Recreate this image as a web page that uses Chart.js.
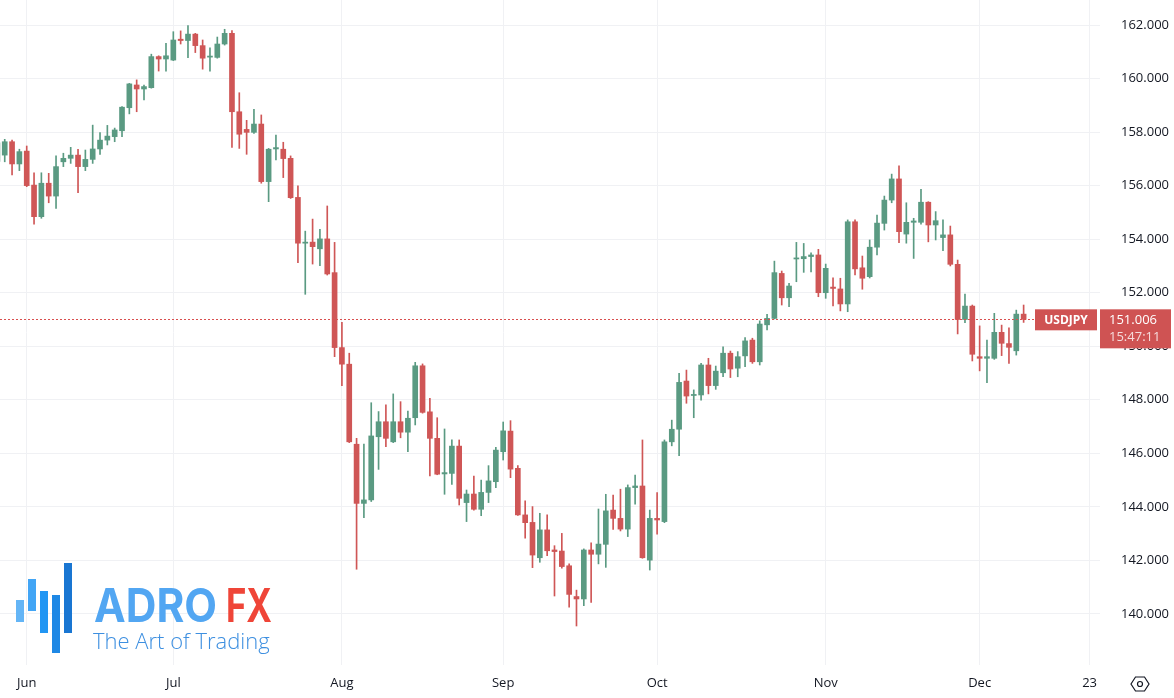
<!DOCTYPE html>
<html>
<head>
<meta charset="utf-8">
<script src="https://cdn.jsdelivr.net/npm/chart.js@4.4.1/dist/chart.umd.min.js"></script>
<style>
  html, body { margin: 0; padding: 0; background: #ffffff; }
  #wrap { width: 1174px; height: 698px; }
</style>
</head>
<body>
<div id="wrap"><canvas id="myChart" width="1174" height="698"></canvas></div>
<script>
// USDJPY daily candles, 28 May 2024 -> 10 Dec 2024 (one entry per trading day)
const firstDay = '2024-05-28';
const lastAxisDay = '2024-12-24';

const open = [
  156.90, 157.14, 157.64, 156.81, 157.29, 156.02, 154.84, 156.09, 155.61, 156.89,
  157.02, 157.14, 156.71, 156.98, 157.37, 157.70, 157.83, 158.05, 158.91, 159.76,
  159.61, 159.66, 160.82, 160.73, 160.69, 161.47, 161.42, 161.66, 161.23, 160.80,
  160.79, 161.29, 161.69, 158.76, 158.10, 157.99, 158.30, 156.15, 157.37, 157.36,
  157.02, 155.56, 153.85, 153.89, 153.64, 154.01, 152.75, 149.95, 149.33, 146.34,
  144.13, 144.26, 146.62, 147.18, 146.43, 147.18, 146.79, 147.33, 149.27, 147.55,
  146.56, 145.23, 145.25, 146.27, 144.16, 144.48, 143.91, 144.54, 144.94, 146.06,
  146.83, 145.44, 143.70, 143.42, 142.10, 143.14, 142.39, 142.35, 141.80, 140.65,
  140.56, 142.39, 142.23, 142.60, 143.88, 143.57, 143.17, 144.72, 144.78, 142.01,
  143.57, 143.45, 146.43, 146.90, 148.70, 148.16, 148.18, 149.30, 148.53, 149.01,
  149.74, 149.18, 149.64, 150.23, 149.42, 150.80, 151.04, 152.72, 151.81, 153.26,
  153.27, 153.35, 153.41, 152.00, 152.21, 152.14, 151.58, 154.65, 152.93, 152.60,
  153.70, 154.59, 155.46, 156.25, 154.19, 154.63, 154.63, 155.38, 154.53, 154.06,
  154.16, 153.06, 151.00, 151.50, 149.61, 149.55, 149.55, 150.52, 150.10, 149.83,
  151.20
];
const high = [
  157.70, 157.73, 157.70, 157.36, 157.48, 156.48, 156.48, 156.46, 157.11, 157.21,
  157.43, 157.36, 157.33, 158.26, 157.98, 158.25, 158.15, 158.95, 159.82, 159.95,
  159.76, 160.91, 160.85, 161.32, 161.75, 161.78, 161.98, 161.69, 161.44, 161.15,
  161.55, 161.84, 161.79, 159.47, 158.44, 158.85, 158.64, 157.39, 157.89, 157.62,
  157.11, 155.99, 154.30, 154.75, 154.37, 155.24, 153.88, 150.89, 149.74, 146.56,
  146.35, 147.89, 147.56, 147.81, 148.22, 147.93, 147.58, 149.40, 149.34, 148.05,
  147.33, 146.91, 146.50, 146.50, 144.63, 145.15, 145.00, 145.54, 146.22, 147.17,
  147.22, 145.54, 144.23, 144.01, 143.76, 143.70, 142.55, 143.01, 141.87, 140.89,
  142.43, 142.66, 143.92, 144.47, 144.44, 144.66, 144.82, 145.19, 146.50, 143.88,
  144.53, 146.50, 147.24, 148.99, 149.11, 148.37, 149.36, 149.55, 149.26, 149.98,
  149.82, 149.80, 150.32, 150.30, 150.95, 151.19, 153.18, 152.81, 152.35, 153.88,
  153.84, 153.49, 153.62, 153.07, 152.56, 152.54, 154.72, 154.72, 153.37, 153.97,
  154.90, 155.61, 156.43, 156.74, 155.36, 154.78, 155.86, 155.40, 155.03, 154.72,
  154.49, 153.22, 151.95, 151.54, 150.76, 150.23, 151.23, 150.79, 150.69, 151.35,
  151.54
];
const low = [
  156.80, 156.89, 156.40, 156.56, 155.96, 154.56, 154.78, 155.36, 155.15, 156.71,
  156.83, 155.74, 156.56, 156.83, 157.17, 157.52, 157.64, 157.83, 158.68, 158.76,
  159.20, 159.64, 160.28, 160.28, 160.67, 161.29, 160.78, 160.97, 160.35, 160.28,
  160.76, 161.25, 157.43, 157.39, 157.17, 157.95, 156.09, 155.40, 156.96, 156.30,
  155.52, 153.12, 151.94, 153.07, 153.01, 152.66, 149.61, 148.53, 146.40, 141.67,
  143.60, 144.20, 145.40, 146.25, 146.40, 146.58, 146.06, 147.06, 147.50, 145.16,
  145.20, 144.47, 144.84, 144.07, 143.45, 143.88, 143.67, 144.16, 144.72, 145.75,
  145.09, 143.68, 142.83, 141.73, 141.93, 142.18, 140.67, 141.71, 140.25, 139.55,
  140.31, 140.43, 141.87, 141.74, 143.16, 143.10, 142.89, 144.10, 142.08, 141.64,
  142.98, 143.41, 146.28, 145.91, 147.87, 147.33, 147.99, 148.22, 148.39, 148.86,
  148.83, 148.86, 149.24, 149.36, 149.30, 150.61, 151.02, 151.54, 151.48, 152.41,
  152.76, 152.78, 151.85, 151.79, 151.51, 151.32, 151.29, 152.66, 152.13, 152.55,
  153.41, 154.34, 155.36, 153.87, 153.85, 153.28, 154.56, 153.90, 153.97, 153.57,
  153.00, 150.46, 150.88, 149.45, 149.08, 148.64, 149.51, 149.65, 149.36, 149.67,
  150.89
];
const close = [
  157.60, 157.64, 156.81, 157.27, 156.00, 154.84, 156.09, 155.61, 156.71, 157.02,
  157.14, 156.71, 156.98, 157.37, 157.70, 157.85, 158.08, 158.93, 159.80, 159.61,
  159.70, 160.82, 160.73, 160.85, 161.44, 161.42, 161.66, 161.23, 160.76, 160.84,
  161.29, 161.69, 158.76, 157.92, 157.99, 158.30, 156.15, 157.36, 157.42, 157.01,
  155.55, 153.85, 153.89, 153.72, 154.01, 152.70, 149.95, 149.33, 146.43, 144.13,
  144.26, 146.65, 147.18, 146.56, 147.18, 146.79, 147.31, 149.27, 147.53, 146.56,
  145.22, 145.28, 146.27, 144.32, 144.48, 143.91, 144.54, 144.97, 146.12, 146.84,
  145.41, 143.70, 143.41, 142.20, 143.14, 142.36, 142.33, 141.77, 140.73, 140.56,
  142.39, 142.23, 142.61, 143.85, 143.57, 143.17, 144.72, 144.78, 142.10, 143.57,
  143.51, 146.43, 146.90, 148.65, 148.14, 148.20, 149.30, 148.53, 149.07, 149.74,
  149.15, 149.61, 150.20, 149.42, 150.83, 151.04, 152.75, 151.81, 152.25, 153.30,
  153.35, 153.41, 152.00, 152.91, 152.16, 151.58, 154.65, 152.89, 152.54, 153.70,
  154.60, 155.46, 156.25, 154.28, 154.63, 154.68, 155.38, 154.53, 154.69, 154.16,
  153.06, 151.00, 151.50, 149.70, 149.55, 149.61, 150.52, 150.11, 149.96, 151.20,
  151.006
];

const tickDates = ['2024-06-03', '2024-07-01', '2024-08-01', '2024-09-02', '2024-10-01', '2024-11-01', '2024-12-02', '2024-12-23'];
const tickLabels = ['Jun', 'Jul', 'Aug', 'Sep', 'Oct', 'Nov', 'Dec', '23'];
const priceTicks = [140, 142, 144, 146, 148, 150, 152, 154, 156, 158, 160, 162];

const symbol = 'USDJPY';
const lastPrice = close[close.length - 1];
const countdown = '15:47:11';

const upColor = '#5a9a82';
const downColor = '#cf5656';
const tagColor = '#cf5353';

// trading calendar (weekdays) used for the time axis
const days = [];
for (let d = new Date(firstDay + 'T00:00:00Z'); d <= new Date(lastAxisDay + 'T00:00:00Z'); d.setUTCDate(d.getUTCDate() + 1)) {
  const wd = d.getUTCDay();
  if (wd !== 0 && wd !== 6) days.push(d.toISOString().slice(0, 10));
}
const tickIdx = tickDates.map(t => days.indexOf(t));

const bodies = open.map((o, i) => ({ x: i, y: [o, close[i]] }));
const wicks = open.map((o, i) => ({ x: i, y: [low[i], high[i]] }));
const colors = open.map((o, i) => close[i] >= o ? upColor : downColor);

const overlay = {
  id: 'overlay',
  afterDraw(chart) {
    const c = chart.ctx;
    const y = chart.scales.y.getPixelForValue(lastPrice);
    const area = chart.chartArea;
    c.save();
    // last price dotted line
    c.strokeStyle = '#d94f4f';
    c.lineWidth = 1;
    c.setLineDash([2, 2]);
    c.beginPath();
    c.moveTo(area.left, Math.round(y) + 0.5);
    c.lineTo(1035, Math.round(y) + 0.5);
    c.stroke();
    c.setLineDash([]);
    // symbol tag
    c.fillStyle = tagColor;
    c.fillRect(1035, y - 10, 62, 21);
    c.fillStyle = '#ffffff';
    c.font = 'bold 12px "Open Sans", sans-serif';
    c.textAlign = 'center';
    c.textBaseline = 'middle';
    c.fillText(symbol, 1066, y + 1);
    // price box
    c.fillStyle = tagColor;
    c.fillRect(1100, y - 10, 71, 39);
    c.fillStyle = '#ffffff';
    c.font = '13px "Open Sans", sans-serif';
    c.textAlign = 'left';
    c.fillText(lastPrice.toFixed(3), 1109, y + 1);
    c.fillStyle = 'rgba(255,255,255,0.8)';
    c.fillText(countdown, 1109, y + 18);
    // settings icon
    c.strokeStyle = '#131722';
    c.lineWidth = 1.2;
    c.beginPath();
    const cx = 1140, cy = 684;
    c.moveTo(cx - 9, cy); c.lineTo(cx - 4.5, cy - 7); c.lineTo(cx + 4.5, cy - 7);
    c.lineTo(cx + 9, cy); c.lineTo(cx + 4.5, cy + 7); c.lineTo(cx - 4.5, cy + 7);
    c.closePath(); c.stroke();
    c.beginPath(); c.arc(cx, cy, 2.5, 0, Math.PI * 2); c.stroke();
    // AdroFX logo
    const bars = [[16, 600, 8, 22, '#64b5f6'], [28, 579, 8, 32, '#42a5f5'], [40, 591, 8, 42, '#2196f3'],
                  [52, 595, 8, 58, '#1e88e5'], [64, 563, 8, 70, '#1976d2']];
    bars.forEach(b => { c.fillStyle = b[4]; c.fillRect(b[0], b[1], b[2], b[3]); });
    c.textBaseline = 'alphabetic';
    c.font = 'bold 46px "Inter", "Lato", sans-serif';
    c.fillStyle = '#52a6f2';
    c.fillText('ADRO', 94, 622, 123);
    c.fillStyle = '#ef4538';
    c.fillText('FX', 226, 622, 46);
    c.font = '300 22px "Open Sans", sans-serif';
    c.fillStyle = '#3d8fe0';
    c.fillText('The Art of Trading', 93, 649, 180);
    c.restore();
  }
};

new Chart(document.getElementById('myChart'), {
  type: 'bar',
  data: {
    datasets: [{
      label: 'wick',
      data: wicks,
      backgroundColor: colors,
      barThickness: 1,
      grouped: false,
      order: 2
    }, {
      label: 'body',
      data: bodies,
      backgroundColor: colors,
      barThickness: 5,
      minBarLength: 1,
      grouped: false,
      order: 1
    }]
  },
  options: {
    responsive: false,
    animation: false,
    devicePixelRatio: 1,
    layout: { padding: 0 },
    plugins: { legend: { display: false }, tooltip: { enabled: false } },
    scales: {
      x: {
        type: 'linear',
        min: 0.355,
        max: 150.42,
        offset: false,
        grid: { color: '#f0f1f4', drawTicks: false, offset: false },
        border: { display: false },
        ticks: {
          color: '#131722',
          font: { family: '"Open Sans", sans-serif', size: 13 },
          padding: 10,
          maxRotation: 0,
          autoSkip: false,
          callback: (v) => tickLabels[tickIdx.indexOf(v)]
        },
        afterBuildTicks: (s) => { s.ticks = tickIdx.map(v => ({ value: v })); },
        afterFit: (s) => { s.height = 33; s.paddingLeft = 0; s.paddingRight = 0; }
      },
      y: {
        position: 'right',
        min: 138.093,
        max: 162.934,
        grid: { color: '#f0f1f4', drawTicks: false },
        border: { display: false },
        ticks: {
          color: '#131722',
          font: { family: '"Open Sans", sans-serif', size: 13 },
          padding: 21,
          callback: (v) => v.toFixed(3)
        },
        afterBuildTicks: (s) => { s.ticks = priceTicks.map(v => ({ value: v })); },
        afterFit: (s) => { s.width = 74; s.paddingTop = 0; s.paddingBottom = 0; }
      }
    }
  },
  plugins: [overlay]
});
</script>
</body>
</html>
